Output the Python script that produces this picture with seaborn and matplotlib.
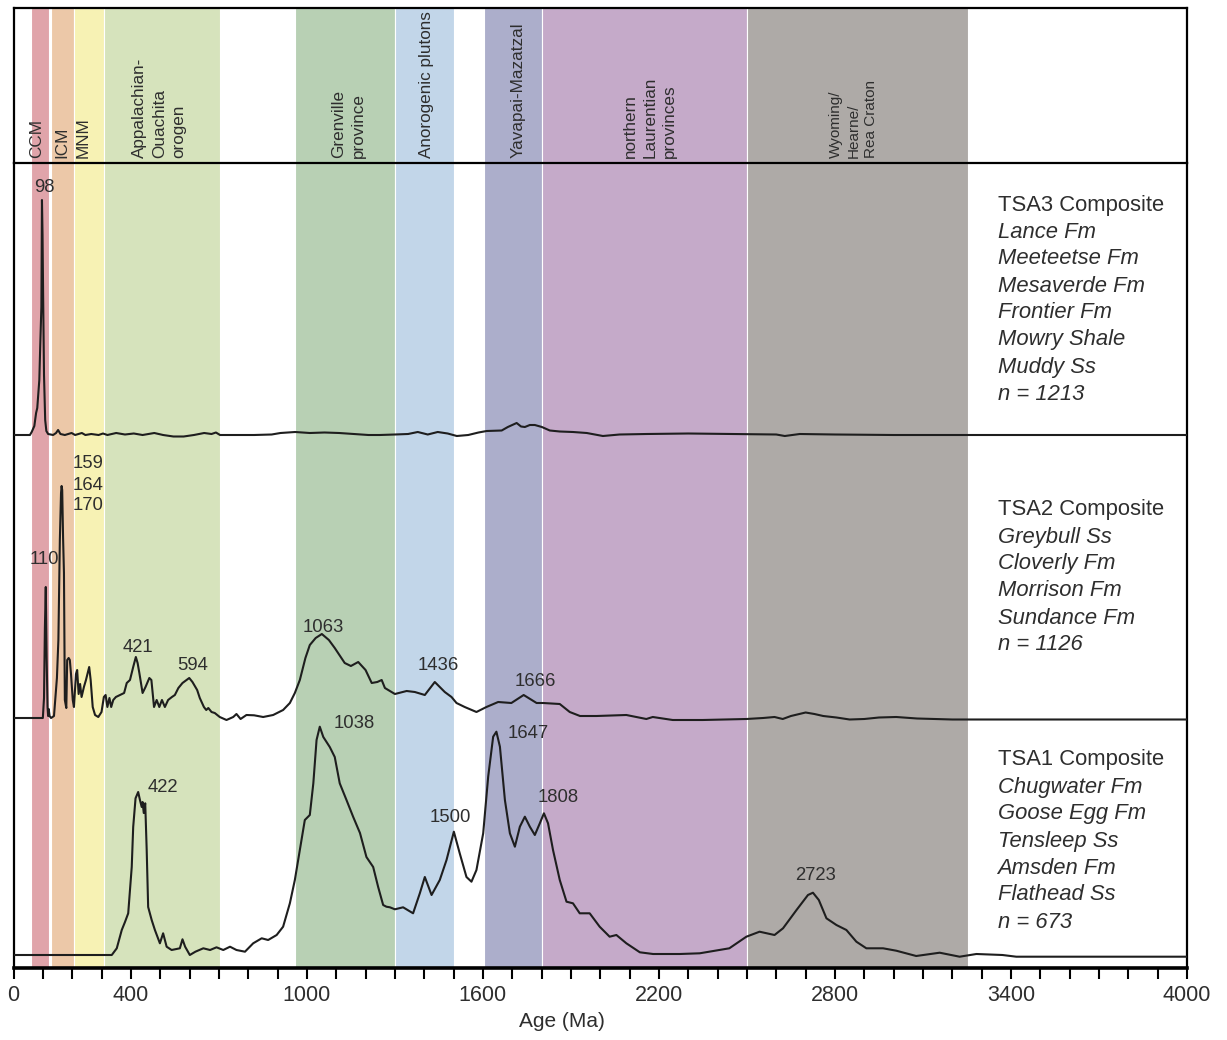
import numpy as np
import pandas as pd
import matplotlib
matplotlib.use("Agg")
import matplotlib.pyplot as plt
import seaborn as sns

# ---- province bands (Ma) ----
band_labels = ["CCM", "ICM", "MNM", "Appalachian-\nOuachita\norogen", "Grenville\nprovince",
               "Anorogenic plutons", "Yavapai-Mazatzal", "northern\nLaurentian\nprovinces",
               "Wyoming/\nHearne/\nRea Craton"]
band_start = [60, 128, 205, 310, 960, 1300, 1605, 1800, 2500]
band_end = [120, 205, 310, 705, 1300, 1500, 1800, 2500, 3255]
band_colors = ["#e0a4aa", "#ecc8a8", "#f7f2b4", "#d6e3bc", "#b8d0b4",
               "#c2d6e9", "#acaecb", "#c5aac9", "#aeaaa7"]
band_label_age = [80, 165, 237, 497, 1143, 1409, 1719, 2169, 2864]

# ---- composite age spectra (age in Ma, relative probability) ----
tsa3_age = [0, 56, 62, 71, 77, 81, 88, 91, 95, 97, 99, 101, 104, 108, 112, 118, 135, 145, 152, 160,
            175, 198, 210, 233, 245, 265, 290, 305, 320, 350, 380, 410, 440, 480, 510, 545, 580, 615,
            650, 675, 690, 704, 760, 820, 880, 910, 960, 1010, 1060, 1110, 1160, 1210, 1248, 1300,
            1345, 1378, 1412, 1446, 1480, 1511, 1550, 1585, 1613, 1664, 1685, 1700, 1715, 1730, 1743,
            1760, 1777, 1801, 1828, 1862, 1907, 1954, 2009, 2066, 2158, 2300, 2450, 2600, 2629, 2680,
            2800, 3000, 3300, 3600, 4000]
tsa3_prob = [0, 0, 3, 9, 22, 27, 55, 88, 128, 235, 200, 140, 60, 15, 4, 1, 0, 2, 5, 1,
             0, 2, 0, 2, 0, 1, 0, 1.5, 0, 2, 0.5, 1.5, 0, 2, 0, -1.5, -1.5, 0,
             2, 1, 2.5, 0, 0, 0, 0.5, 2, 3, 2, 2.5, 2, 1, 0, 0, 0.5,
             1, 3, 0.5, 3, 1.5, -1, 0, 2.5, 4, 4.5, 8, 10, 12, 8.5, 8,
             10, 10, 8, 4.5, 3.5, 3, 2, -1, 0.5, 1, 1.5, 1, 0.5, -1, 1,
             0.5, 0, 0, 0, 0]

tsa2_age = [0, 100, 104, 107, 110, 113, 116, 118, 120, 123, 128, 138, 148, 153, 158, 162, 164, 166,
            169, 172, 175, 180, 183, 188, 192, 196, 202, 206, 213, 217, 222, 227, 232, 240, 247, 253,
            258, 263, 270, 278, 289, 300, 308, 314, 320, 327, 333, 340, 349, 363, 377, 386, 397, 408,
            417, 423, 429, 440, 450, 463, 470, 479, 488, 497, 506, 516, 527, 540, 550, 562, 576, 599,
            610, 626, 635, 649, 657, 664, 675, 686, 703, 726, 749, 760, 774, 794, 820, 851, 885, 919,
            942, 959, 976, 995, 1010, 1030, 1051, 1075, 1095, 1129, 1150, 1175, 1200, 1221, 1240, 1255,
            1266, 1300, 1340, 1368, 1402, 1436, 1470, 1493, 1510, 1538, 1578, 1612, 1652, 1697, 1739,
            1783, 1805, 1862, 1896, 1931, 1987, 2089, 2157, 2179, 2247, 2349, 2498, 2555, 2594, 2622,
            2650, 2700, 2730, 2760, 2805, 2850, 2900, 2950, 3009, 3080, 3200, 3400, 4000]
tsa2_prob = [0, 0, 20, 90, 131, 60, 11, 2, 9, 2, 0, 2, 40, 78, 178, 225, 232, 228,
             180, 145, 18, 10, 58, 60, 58, 44, 18, 11, 44, 48, 24, 34, 21, 31, 38, 45,
             51, 38, 11, 3, 1, 6, 21, 23, 11, 20, 11, 18, 21, 23, 25, 35, 38, 51,
             61, 55, 45, 25, 31, 40, 38, 11, 18, 11, 18, 11, 18, 21, 23, 30, 35, 40,
             36, 28, 20, 11, 8, 10, 6, 5, 1, -2, 1, 4, -1, 3, 2.7, 1, 3, 8,
             15, 25, 38, 60, 73, 80, 84, 78, 70, 55, 52, 56, 48, 35, 36, 38,
             30, 24, 27, 26, 23, 36, 26, 21, 15, 11, 6, 11, 16, 15, 23,
             15, 15, 14, 6, 2, 2, 3, -1, 1, -2, -2, -1, 0, 1, -1,
             2, 5.5, 4, 2, 0.5, -1.5, -1, 0.5, 1, -0.5, -1.5, -1.5, -1.5]

tsa1_age = [0, 335, 352, 369, 380, 391, 403, 408, 416, 425, 431, 437, 440, 444, 449, 454, 459, 471,
            482, 499, 510, 522, 539, 567, 576, 585, 601, 620, 647, 670, 692, 715, 738, 760, 789, 817,
            846, 868, 897, 919, 942, 959, 976, 993, 1010, 1022, 1033, 1044, 1056, 1078, 1095, 1112,
            1135, 1158, 1181, 1203, 1226, 1243, 1260, 1271, 1283, 1300, 1328, 1362, 1385, 1402, 1425,
            1453, 1476, 1501, 1521, 1544, 1561, 1578, 1601, 1618, 1635, 1646, 1658, 1675, 1692, 1709,
            1726, 1743, 1760, 1777, 1794, 1808, 1822, 1839, 1862, 1885, 1907, 1930, 1964, 1998, 2032,
            2055, 2089, 2135, 2180, 2271, 2339, 2440, 2498, 2543, 2594, 2623, 2669, 2708, 2725, 2745,
            2771, 2805, 2839, 2873, 2907, 2964, 3009, 3077, 3157, 3225, 3282, 3371, 3418, 4000]
tsa1_prob = [0, 0, 6.7, 25, 33, 41.7, 88, 128, 156.7, 163, 155, 148, 153, 142, 151.7, 105, 48, 35,
             25, 11.7, 21.7, 8.3, 5, 6.7, 15.7, 8.3, 0, 3.3, 6.7, 5, 7.7, 5, 8.3, 5, 3.3, 11.7,
             16.7, 15, 20, 28.3, 51.7, 75, 105, 135, 140, 171.7, 215, 228.3, 218, 208, 198, 171.7,
             155, 138, 122, 98, 88, 68, 50, 48.3, 47.7, 45.7, 47.7, 41.7, 61.7, 78, 60,
             75, 95, 123.3, 101.7, 78, 73.3, 85, 121.7, 178.3, 218.3, 223.3, 208.3, 155, 121.7, 108.3,
             128.3, 138.3, 128.3, 120, 131.7, 141.7, 131.7, 105, 75, 53.3, 51.7, 41.7, 41.7, 28.3, 18.3,
             20, 11.7, 2.7, 1, 1, 1.7, 6.7, 18.3, 23.3, 20, 26.7, 45, 60, 62.3, 55,
             36.7, 30, 25, 13.3, 6.7, 6.7, 4.3, -1, 2.3, -1.7, 1, 0, -1.7, -1.7]

peak_labels = ["98", "110", "159", "164", "170", "421", "594", "1063", "1436", "1666",
               "1038", "422", "1500", "1647", "1808", "2723"]

composite_text = [
    ["TSA3 Composite", "Lance Fm", "Meeteetse Fm", "Mesaverde Fm", "Frontier Fm",
     "Mowry Shale", "Muddy Ss", "n = 1213"],
    ["TSA2 Composite", "Greybull Ss", "Cloverly Fm", "Morrison Fm", "Sundance Fm", "n = 1126"],
    ["TSA1 Composite", "Chugwater Fm", "Goose Egg Fm", "Tensleep Ss", "Amsden Fm",
     "Flathead Ss", "n = 673"],
]

major_ticks = [0, 400, 1000, 1600, 2200, 2800, 3400, 4000]

# ---- layout (pixel-based, figure is 1227 x 1040) ----
W, H = 1227, 1040
XL, XR = 13.5, 1187
TOP, MID, BOT = 8, 163, 968


def py(p):
    # pixel row -> main axes y
    return BOT - p


sns.set_style("white")
plt.rcParams["font.family"] = ["Liberation Sans", "DejaVu Sans"]
ink = "#1e1e1e"
txt = "#2e2e2e"

fig = plt.figure(figsize=(W / 100, H / 100), dpi=100)
ax_h = fig.add_axes([XL / W, (H - MID) / H, (XR - XL) / W, (MID - TOP) / H])
ax = fig.add_axes([XL / W, (H - BOT) / H, (XR - XL) / W, (BOT - MID) / H])

for a in (ax_h, ax):
    for s, e, c in zip(band_start, band_end, band_colors):
        a.axvspan(s, e, facecolor=c, edgecolor="white", lw=0.8, zorder=0)
    a.set_xlim(0, 4000)

# header
ax_h.set_ylim(0, MID - TOP)
ax_h.set_xticks([])
ax_h.set_yticks([])
for sp in ax_h.spines.values():
    sp.set_linewidth(1.6)
    sp.set_color("black")
ax_h.spines["bottom"].set_visible(False)
for lab, xa in zip(band_labels, band_label_age):
    if lab.startswith("Wyoming"):
        fs, ls = 11, 1.3
    else:
        fs, ls = 12.3, 1.38
    ax_h.text(xa, 5, lab, rotation=90, ha="center", va="bottom", multialignment="left",
              fontsize=fs, color=txt, linespacing=ls)

# curves
ax.set_ylim(0, BOT - MID)
bases = [py(435), py(718), py(955)]
for ages, prob, base in zip([tsa3_age, tsa2_age, tsa1_age], [tsa3_prob, tsa2_prob, tsa1_prob], bases):
    df = pd.DataFrame({"age": ages, "y": np.array(prob) + base})
    sns.lineplot(data=df, x="age", y="y", ax=ax, color=ink, lw=1.5, estimator=None,
                 sort=False, zorder=3)

# peak labels: (left pixel x, centre pixel y)
label_pos = [(34, 188), (30, 560), (73, 463), (73, 485), (73, 506), (123, 648), (177, 665),
             (303, 627), (418, 666), (515, 682), (334, 723), (148, 787), (430, 817),
             (508, 733), (538, 798), (795, 875)]
for lab, (lx, ly) in zip(peak_labels, label_pos):
    ax.text((lx - XL) / 0.2935, py(ly), lab, ha="left", va="center", fontsize=13.3, color=txt,
            zorder=4)

# composite legends
tx = (998 - XL) / 0.2935
for lines, y0 in zip(composite_text, [205, 510, 760]):
    for i, line in enumerate(lines):
        ax.text(tx, py(y0 + 27 * i), line, ha="left", va="center", fontsize=15.8, color=txt,
                style="normal" if i == 0 else "italic", zorder=4)

# axes styling
for sp in ["left", "right", "top"]:
    ax.spines[sp].set_linewidth(1.6)
    ax.spines[sp].set_color("black")
ax.spines["bottom"].set_linewidth(2.6)
ax.spines["bottom"].set_color("black")
ax.set_yticks([])
ax.set_ylabel("")
ax.set_xticks(major_ticks)
ax.set_xticks([m for m in range(0, 4001, 100) if m not in major_ticks], minor=True)
ax.set_xticklabels([str(t) for t in major_ticks])
ax.tick_params(axis="x", which="both", bottom=True, direction="out", length=8, width=1.5,
               color="black", pad=4, labelsize=15.5, labelcolor=txt)
ax.set_xlabel("Age (Ma)", fontsize=15, color=txt)
ax.xaxis.set_label_coords((562 - XL) / (XR - XL), -(1012 - BOT) / (BOT - MID))

fig.savefig("out.png", dpi=100)
